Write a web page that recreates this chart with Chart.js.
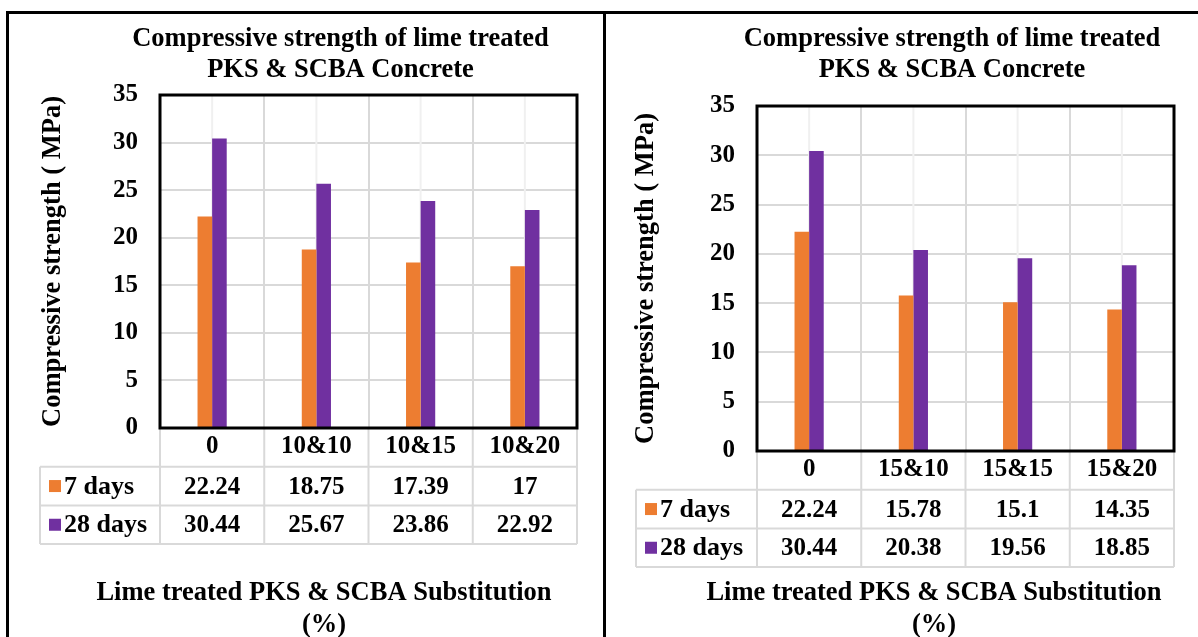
<!DOCTYPE html>
<html>
<head>
<meta charset="utf-8">
<script src="https://cdn.jsdelivr.net/npm/chart.js@4.4.0/dist/chart.umd.min.js"></script>
<style>
  html, body { margin: 0; padding: 0; background: #fff; overflow: hidden; width: 1198px; height: 637px; }
  .frame { position: absolute; background: #000; }
  canvas { position: absolute; top: 0; }
</style>
</head>
<body>
<div class="frame" style="left:6px; top:11px; width:1192px; height:3px;"></div>
<div class="frame" style="left:6px; top:11px; width:3px; height:626px;"></div>
<div class="frame" style="left:603px; top:11px; width:3px; height:626px;"></div>
<canvas id="chartLeft" width="681" height="637" style="left:0px"></canvas>
<canvas id="chartRight" width="664" height="637" style="left:620px"></canvas>
<script>
// values
const leftCategories = ['0', '10&10', '10&15', '10&20'];
const leftDays7 = [22.24, 18.75, 17.39, 17];
const leftDays28 = [30.44, 25.67, 23.86, 22.92];

const rightCategories = ['0', '15&10', '15&15', '15&20'];
const rightDays7 = [22.24, 15.78, 15.1, 14.35];
const rightDays28 = [30.44, 20.38, 19.56, 18.85];

const seriesNames = ['7 days', '28 days'];
const seriesColors = ['#ED7D31', '#7030A0'];
const yTicks = [0, 5, 10, 15, 20, 25, 30, 35];

const chartTitle = ['Compressive strength of lime treated', 'PKS & SCBA Concrete'];
const xTitle = ['Lime treated PKS & SCBA Substitution', '(%)'];
const yTitle = 'Compressive strength ( MPa)';

const FONT = 'Liberation Serif, Times New Roman, serif';

// draws the Excel style data table under the x axis, the x axis title,
// the light minor gridlines and the plot frame
const dataTable = {
    id: 'dataTable',
    beforeDatasetsDraw(chart) {
        const { ctx, chartArea: a, scales: { x } } = chart;
        ctx.save();
        ctx.strokeStyle = '#f0f0f0';
        ctx.lineWidth = 2;
        x.ticks.forEach((t, i) => {
            const px = x.getPixelForTick(i);
            ctx.beginPath();
            ctx.moveTo(px, a.top);
            ctx.lineTo(px, a.bottom);
            ctx.stroke();
        });
        ctx.restore();
    },
    afterDraw(chart, args, opts) {
        const { ctx, chartArea: a, scales: { x } } = chart;
        const rowH = opts.rowHeight;
        const left = opts.legendLeft;
        const n = chart.data.labels.length;

        const edges = [a.left];
        for (let i = 1; i < n; i++) {
            edges.push((x.getPixelForTick(i - 1) + x.getPixelForTick(i)) / 2);
        }
        edges.push(a.right);

        ctx.save();
        ctx.strokeStyle = '#d9d9d9';
        ctx.lineWidth = 2;
        ctx.beginPath();
        for (let r = 1; r <= 3; r++) {
            const y = a.bottom + rowH * r;
            ctx.moveTo(left, y);
            ctx.lineTo(a.right, y);
        }
        edges.forEach(ex => {
            ctx.moveTo(ex, a.bottom);
            ctx.lineTo(ex, a.bottom + rowH * 3);
        });
        ctx.moveTo(left, a.bottom + rowH);
        ctx.lineTo(left, a.bottom + rowH * 3);
        ctx.stroke();

        ctx.textBaseline = 'middle';
        chart.data.datasets.forEach((ds, r) => {
            const cy = a.bottom + rowH * (r + 1.5);
            ctx.fillStyle = ds.backgroundColor;
            ctx.fillRect(left + 9, cy - 6, 12, 12);
            ctx.fillStyle = '#000';
            ctx.textAlign = 'left';
            ctx.font = 'bold 26px ' + FONT;
            ctx.fillText(ds.label, left + 24, cy + 1);
            ctx.textAlign = 'center';
            ctx.font = 'bold 25px ' + FONT;
            ds.data.forEach((v, i) => {
                ctx.fillText(String(v), x.getPixelForTick(i), cy + 1);
            });
        });

        // axis title below the table
        ctx.font = 'bold 26.5px ' + FONT;
        ctx.textAlign = 'center';
        opts.xTitle.forEach((line, i) => {
            ctx.fillText(line, opts.xTitleX, opts.xTitleY[i]);
        });

        ctx.strokeStyle = '#000';
        ctx.lineWidth = 3;
        ctx.strokeRect(a.left, a.top, a.right - a.left, a.bottom - a.top);
        ctx.restore();
    }
};

function makeChart(id, categories, days7, days28, box) {
    const ctx = document.getElementById(id).getContext('2d');
    return new Chart(ctx, {
        type: 'bar',
        data: {
            labels: categories,
            datasets: [
                { label: seriesNames[0], data: days7, backgroundColor: seriesColors[0] },
                { label: seriesNames[1], data: days28, backgroundColor: seriesColors[1] }
            ]
        },
        options: {
            responsive: false,
            animation: false,
            devicePixelRatio: 1,
            categoryPercentage: 0.28,
            barPercentage: 1.0,
            layout: { padding: 0 },
            scales: {
                x: {
                    grid: { color: '#d9d9d9', lineWidth: 2, drawTicks: false },
                    border: { display: false },
                    ticks: { color: '#000', padding: 4, font: { family: FONT, size: 25, weight: 'bold' } },
                    afterFit: s => { s.height = box.xHeight; }
                },
                y: {
                    min: 0,
                    max: 35,
                    afterBuildTicks: s => { s.ticks = yTicks.map(v => ({ value: v })); },
                    grid: { color: '#d9d9d9', lineWidth: 2, drawTicks: false },
                    border: { display: false },
                    ticks: { color: '#000', padding: 22, font: { family: FONT, size: 25, weight: 'bold' } },
                    title: {
                        display: true,
                        text: yTitle,
                        color: '#000',
                        padding: { top: box.yTitlePad, bottom: 0 },
                        font: { family: FONT, size: 26.5, weight: 'bold' }
                    },
                    afterFit: s => { s.width = box.yWidth; }
                },
                // empty axis on the right, only keeps the plot clear of the right side
                spacer: {
                    type: 'linear',
                    position: 'right',
                    grid: { display: false },
                    border: { display: false },
                    ticks: { display: false },
                    afterFit: s => { s.width = box.rightGap; }
                }
            },
            plugins: {
                legend: { display: false },
                tooltip: { enabled: false },
                title: {
                    display: true,
                    text: chartTitle,
                    color: '#000',
                    font: { family: FONT, size: 26.5, weight: 'bold', lineHeight: 1.17 },
                    padding: { top: 24, bottom: box.titleGap }
                },
                dataTable: {
                    rowHeight: 38.7,
                    legendLeft: box.legendLeft,
                    xTitle: xTitle,
                    xTitleX: box.xTitleX,
                    xTitleY: [593, 625]
                }
            }
        },
        plugins: [dataTable]
    });
}

makeChart('chartLeft', leftCategories, leftDays7, leftDays28,
    { xHeight: 209, yWidth: 160, yTitlePad: 37, rightGap: 104, titleGap: 9, legendLeft: 40, xTitleX: 324 });
makeChart('chartRight', rightCategories, rightDays7, rightDays28,
    { xHeight: 186, yWidth: 137, yTitlePad: 10, rightGap: 110, titleGap: 20, legendLeft: 16, xTitleX: 314 });
</script>
</body>
</html>
